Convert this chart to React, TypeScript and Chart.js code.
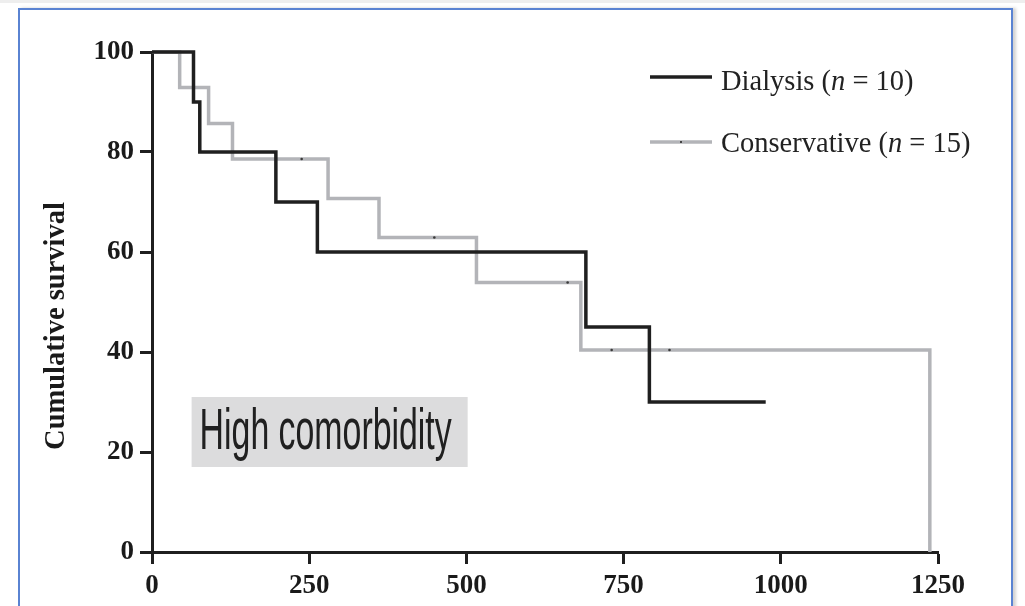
import React, { useEffect, useRef } from "react";
import { Chart, registerables } from "chart.js";

Chart.register(...registerables);

// ---- data ----
const dialysisTimes = [0, 66, 76, 197, 263, 690, 791, 976];
const dialysisSurvival = [100, 90, 80, 70, 60, 45, 30, 30];
const conservativeTimes = [0, 44, 90, 128, 280, 361, 516, 682, 1237];
const conservativeSurvival = [100, 92.9, 85.7, 78.6, 70.7, 62.9, 53.9, 40.4, 0];
const censoredTimes = [238, 449, 661, 731, 823];
const censoredSurvival = [78.6, 62.9, 53.9, 40.4, 40.4];
const xTickValues = [0, 250, 500, 750, 1000, 1250];
const yTickValues = [0, 20, 40, 60, 80, 100];
const seriesNames = ["Dialysis", "Conservative"];
const seriesCounts = [10, 15];
const yAxisTitle = "Cumulative survival";
const annotationText = "High comorbidity";
const annotationRangeX = [63, 502];
const annotationRangeY = [17, 31];

const BLACK = "#1f1f1f";
const GRAY = "#b3b4b8";

const legendPlugin = {
  id: "kmLegend",
  afterDraw(chart: any) {
    const ctx = chart.ctx;
    const { right, top } = chart.chartArea;
    const x0 = right - 288;
    const x1 = right - 226;
    const tx = right - 217;
    const rows = [
      { color: BLACK, lineY: top + 25, base: top + 38, dot: false },
      { color: GRAY, lineY: top + 90, base: top + 100, dot: true },
    ];
    ctx.save();
    rows.forEach((r, i) => {
      ctx.strokeStyle = r.color;
      ctx.lineWidth = 3.5;
      ctx.beginPath();
      ctx.moveTo(x0, r.lineY);
      ctx.lineTo(x1, r.lineY);
      ctx.stroke();
      if (r.dot) {
        ctx.fillStyle = "#444";
        ctx.fillRect((x0 + x1) / 2 - 1, r.lineY - 1, 2, 2);
      }
      ctx.fillStyle = "#222";
      ctx.textBaseline = "alphabetic";
      ctx.textAlign = "left";
      let x = tx;
      const reg = '28.5px "Liberation Serif"';
      const ital = 'italic 28.5px "Liberation Serif"';
      const parts: [string, string][] = [
        [seriesNames[i] + " (", reg],
        ["n", ital],
        [" = " + seriesCounts[i] + ")", reg],
      ];
      parts.forEach(([t, f]) => {
        ctx.font = f;
        ctx.fillText(t, x, r.base);
        x += ctx.measureText(t).width;
      });
    });
    ctx.restore();
  },
};

const yTitlePlugin = {
  id: "kmYTitle",
  afterDraw(chart: any) {
    const ctx = chart.ctx;
    const { bottom, top } = chart.chartArea;
    ctx.save();
    ctx.translate(57, (top + bottom) / 2 + 24);
    ctx.rotate(-Math.PI / 2);
    ctx.font = 'bold 28.5px "Liberation Serif"';
    ctx.fillStyle = "#1a1a1a";
    ctx.textAlign = "center";
    ctx.textBaseline = "middle";
    ctx.fillText(yAxisTitle, 0, 0);
    ctx.restore();
  },
};

const annotationPlugin = {
  id: "kmAnnotation",
  afterDraw(chart: any) {
    const ctx = chart.ctx;
    const xs = chart.scales.x;
    const ys = chart.scales.y;
    const left = xs.getPixelForValue(annotationRangeX[0]);
    const right = xs.getPixelForValue(annotationRangeX[1]);
    const top = ys.getPixelForValue(annotationRangeY[1]);
    const bottom = ys.getPixelForValue(annotationRangeY[0]);
    ctx.save();
    ctx.fillStyle = "#dcdcdd";
    ctx.fillRect(left, top, right - left, bottom - top);
    ctx.font = '58px "Liberation Sans"';
    const w = ctx.measureText(annotationText).width;
    const targetW = right - left - 24;
    const sx = targetW / w;
    ctx.translate(left + 8, top + 52);
    ctx.scale(sx, 1);
    ctx.fillStyle = "#202020";
    ctx.textBaseline = "alphabetic";
    ctx.textAlign = "left";
    ctx.fillText(annotationText, 0, 0);
    ctx.restore();
  },
};

export default function App() {
  const ref = useRef<HTMLCanvasElement | null>(null);

  useEffect(() => {
    if (!ref.current) return;
    const tickFont = { family: '"Liberation Serif"', size: 27, weight: "bold" as const };
    const chart = new Chart(ref.current, {
      type: "line",
      data: {
        datasets: [
          {
            type: "scatter",
            label: "censored",
            data: censoredTimes.map((t, i) => ({ x: t, y: censoredSurvival[i] })),
            showLine: false,
            pointRadius: 1.3,
            pointBackgroundColor: "#3a3a3a",
            pointBorderWidth: 0,
          } as any,
          {
            label: seriesNames[0],
            data: dialysisTimes.map((t, i) => ({ x: t, y: dialysisSurvival[i] })),
            stepped: "before",
            borderColor: BLACK,
            borderWidth: 3.5,
            pointRadius: 0,
            fill: false,
            clip: false,
          } as any,
          {
            label: seriesNames[1],
            data: conservativeTimes.map((t, i) => ({ x: t, y: conservativeSurvival[i] })),
            stepped: "before",
            borderColor: GRAY,
            borderWidth: 3.5,
            pointRadius: 0,
            fill: false,
            clip: false,
          } as any,
        ],
      },
      options: {
        animation: false,
        responsive: false,
        layout: { padding: { left: 30, top: 52, right: 87, bottom: 0 } },
        plugins: { legend: { display: false }, tooltip: { enabled: false } },
        scales: {
          x: {
            type: "linear",
            min: 0,
            max: 1250,
            afterBuildTicks: (s: any) => {
              s.ticks = xTickValues.map((v) => ({ value: v }));
            },
            afterFit: (s: any) => {
              s.height = 54;
            },
            grid: {
              drawOnChartArea: false,
              drawTicks: true,
              tickLength: 12,
              tickWidth: 3,
              tickColor: BLACK,
            },
            border: { display: true, width: 3, color: BLACK },
            ticks: {
              font: tickFont,
              color: "#1a1a1a",
              padding: 6,
              maxRotation: 0,
              autoSkip: false,
              callback: (v: any) => String(v),
            },
          },
          y: {
            type: "linear",
            min: 0,
            max: 100,
            afterBuildTicks: (s: any) => {
              s.ticks = yTickValues.map((v) => ({ value: v }));
            },
            afterFit: (s: any) => {
              s.width = 122;
            },
            grid: {
              drawOnChartArea: false,
              drawTicks: true,
              tickLength: 12,
              tickWidth: 3,
              tickColor: BLACK,
            },
            border: { display: true, width: 3, color: BLACK },
            ticks: {
              font: tickFont,
              color: "#1a1a1a",
              padding: 6,
              autoSkip: false,
              callback: (v: any) => String(v),
            },
            title: { display: false },
          },
        },
      },
      plugins: [annotationPlugin, legendPlugin, yTitlePlugin],
    } as any);
    return () => chart.destroy();
  }, []);

  return (
    <div
      style={{
        position: "fixed",
        left: 0,
        top: 0,
        width: 1025,
        height: 606,
        overflow: "hidden",
        background: "#ffffff",
      }}
    >
      <div
        style={{
          position: "absolute",
          left: 0,
          top: 0,
          width: 1025,
          height: 3,
          background: "#eeeeee",
        }}
      />
      <div
        style={{
          position: "absolute",
          left: 18,
          top: 8,
          width: 995,
          height: 700,
          border: "2px solid #5a83d2",
          boxShadow: "3px 0 3px rgba(0,0,0,0.18)",
          boxSizing: "border-box",
        }}
      />
      <canvas ref={ref} width={1025} height={606} style={{ position: "absolute", left: 0, top: 0 }} />
    </div>
  );
}
